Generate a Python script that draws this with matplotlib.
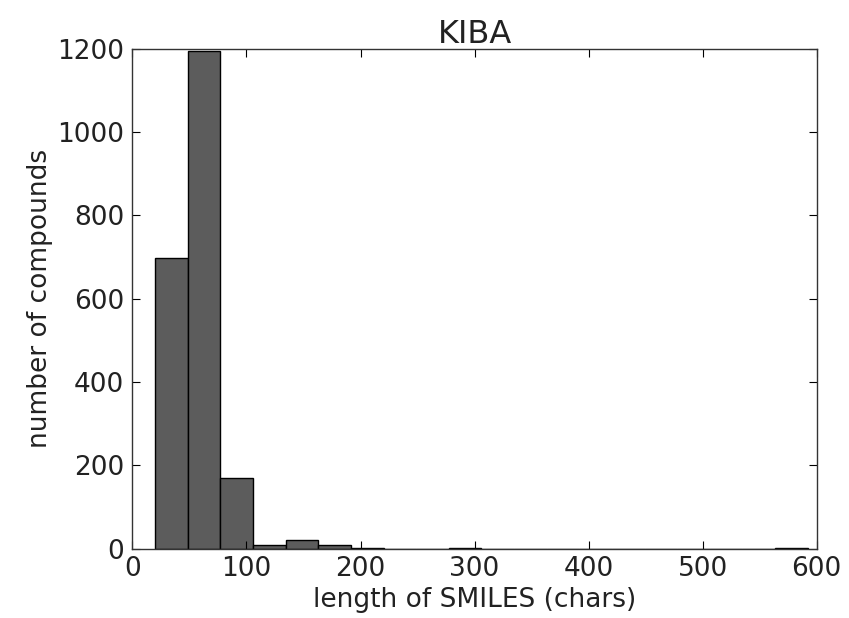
import numpy as np
import matplotlib
matplotlib.use("Agg")
import matplotlib.pyplot as plt

# =========================
# Dados
# =========================
bin_start = 20
bin_end = 592
n_bins = 20
counts = [698, 1195, 171, 10, 22, 8, 3, 0, 0, 1,
          0, 0, 0, 0, 0, 0, 0, 0, 0, 1]

title = "KIBA"
xlabel = "length of SMILES (chars)"
ylabel = "number of compounds"

# =========================
# Figura
# =========================
edges = np.linspace(bin_start, bin_end, n_bins + 1)

fig = plt.figure(figsize=(8.49, 6.18), dpi=100)
ax = fig.add_axes([0.156, 0.112, 0.806, 0.809])

ax.bar(edges[:-1], counts, width=np.diff(edges), align="edge",
       color="#5c5c5c", edgecolor="black", linewidth=1.0)

ax.set_xlim(0, 600)
ax.set_ylim(0, 1200)
ax.set_xticks(np.arange(0, 601, 100))
ax.set_yticks(np.arange(0, 1201, 200))

ax.tick_params(direction="in", top=True, right=True, length=6,
               labelsize=19, labelcolor="#222222")
ax.tick_params(axis="x", pad=5)
ax.tick_params(axis="y", pad=6)
for s in ax.spines.values():
    s.set_linewidth(1.0)
    s.set_color("#333333")

ax.set_title(title, fontsize=23, color="#222222", pad=4)
ax.set_xlabel(xlabel, fontsize=19, color="#222222", labelpad=4)
ax.set_ylabel(ylabel, fontsize=19, color="#222222", labelpad=3)

fig.savefig("out.png", dpi=100)
